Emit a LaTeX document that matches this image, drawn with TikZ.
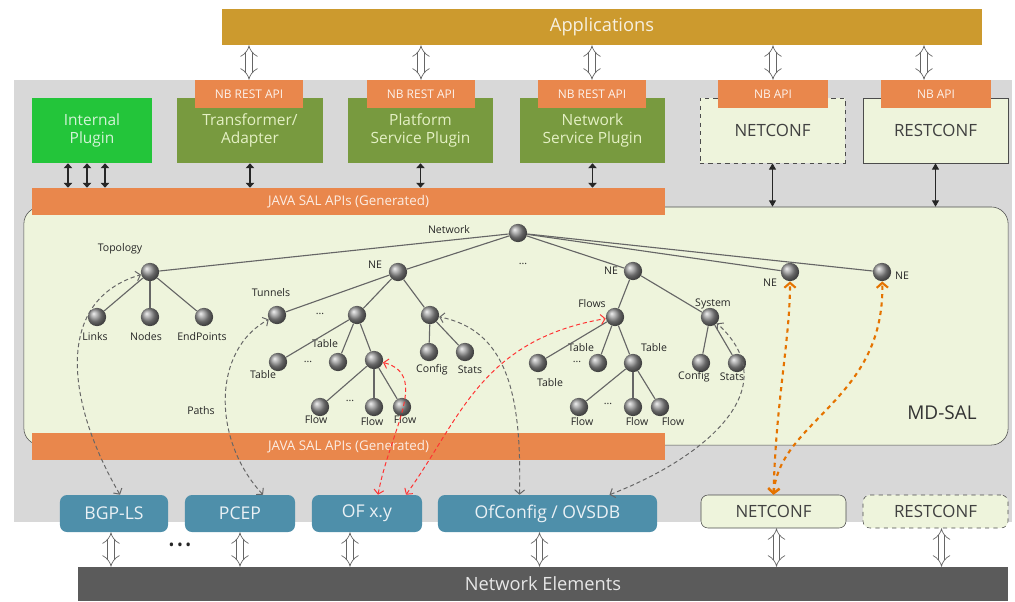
\documentclass[tikz,border=0pt]{standalone}
\usepackage{fontspec}
\setmainfont{Open Sans}
\usepackage{tikz}
\usetikzlibrary{positioning, arrows.meta, calc}

\definecolor{appgold}{HTML}{CC9A2E}
\definecolor{tabor}{HTML}{E9874C}
\definecolor{plugol}{HTML}{789A3F}
\definecolor{plugtxt}{HTML}{E4F0C4}
\definecolor{intgreen}{HTML}{23C53A}
\definecolor{mdfill}{HTML}{EEF4DC}
\definecolor{sbblue}{HTML}{4E8FAA}
\definecolor{nedark}{HTML}{5B5B5B}
\definecolor{greybg}{HTML}{D8D8D8}

\begin{document}
\begin{tikzpicture}[x=0.025cm, y=-0.025cm,
        box/.style={rectangle, inner sep=0pt, align=center},
        plug/.style={box, fill=plugol, text=plugtxt, minimum width=3.625cm, minimum height=1.625cm, font=\fontsize{11}{13}\selectfont},
        tab/.style={box, fill=tabor, text=white!90!tabor, minimum width=2.7cm, minimum height=0.7cm, font=\fontsize{8.5}{10}\selectfont},
        confbox/.style={box, draw=black!70, fill=mdfill, text=black!75, minimum width=3.625cm, font=\fontsize{12}{14}\selectfont},
        sbox/.style={box, rounded corners=5pt, fill=sbblue, text=white!88!sbblue, minimum height=0.925cm, font=\fontsize{12.5}{14}\selectfont},
        salbar/.style={box, fill=tabor, text=white!85!tabor, minimum width=15.825cm, font=\fontsize{9.5}{11}\selectfont},
        ball/.style={circle, ball color=gray!85, minimum size=13pt, inner sep=0pt},
        lbl/.style={font=\fontsize{7.5}{8}\selectfont, text=black!85, inner sep=0pt},
        tree/.style={draw=black!60, line width=0.8pt},
        hollow/.style={draw=black!60, line width=0.5pt, double=white, double distance=4pt, {Implies[scale=1.5]}-{Implies[scale=1.5]}},
        sal/.style={draw=black!85, line width=1.2pt, {Triangle[length=3.5pt,width=6pt]}-{Triangle[length=3.5pt,width=6pt]}},
        mdlink/.style={draw=black!85, line width=0.6pt, {Triangle[length=4.5pt,width=5pt]}-{Triangle[length=4.5pt,width=5pt]}},
        gdash/.style={densely dashed, draw=black!60, line width=0.7pt, {Straight Barb[length=3pt,width=7pt]}-{Straight Barb[length=3pt,width=7pt]}},
        rdash/.style={gdash, draw=red!80},
        odash/.style={dashed, draw=orange!90!black, line width=1.5pt, {Straight Barb[length=3.5pt,width=8pt]}-{Straight Barb[length=3.5pt,width=8pt]}}]

    \useasboundingbox (0,0) rectangle (1015,601);
    \fill[greybg] (14,80) rectangle (1012,522);

    \node[box, fill=appgold, text=white!85!appgold, minimum width=19cm, minimum height=0.9cm, font=\fontsize{13}{15}\selectfont] (apps) at (602,27) {Applications};

    \node[plug, fill=intgreen, text=white!80!intgreen, minimum width=3cm] (intp) at (92,130.5) {Internal\\Plugin};
    \node[plug] (trans) at (250,130.5) {Transformer/\\Adapter};
    \node[plug] (plat) at (420.5,130.5) {Platform\\Service Plugin};
    \node[plug] (nsp) at (592.5,130.5) {Network\\Service Plugin};
    \node[confbox, dashed, minimum height=1.625cm] (nctop) at (772.5,130.5) {NETCONF};
    \node[confbox, minimum height=1.625cm] (rctop) at (935.5,130.5) {RESTCONF};

    \node[tab] (tabtr) at (249,94) {NB REST API};
    \node[tab] (tabpl) at (421,94) {NB REST API};
    \node[tab] (tabns) at (592,94) {NB REST API};
    \node[tab, minimum width=2.75cm] (tabnc) at (773,94) {NB API};
    \node[tab, minimum width=2.75cm] (tabrc) at (936,94) {NB API};

    \node[box, draw=black!70, fill=mdfill, rounded corners=12pt, minimum width=24.6cm, minimum height=5.95cm] (mdsal) at (516,326) {};
    \node[font=\fontsize{13.5}{15}\selectfont, text=black!80] (mdlbl) at (942,413) {MD-SAL};

    \node[salbar, minimum height=0.675cm] (saltop) at (348.5,201.5) {JAVA SAL APIs (Generated)};
    \node[salbar, minimum height=0.675cm] (salbot) at (348.5,446.5) {JAVA SAL APIs (Generated)};

    \node[sbox, minimum width=2.7cm] (bgp) at (114,513.5) {BGP-LS};
    \node[sbox, minimum width=2.75cm] (pcep) at (240,513.5) {PCEP};
    \node[sbox, minimum width=2.75cm] (ofxy) at (367,513.5) {OF x.y};
    \node[sbox, minimum width=5.475cm] (ofc) at (547.5,513.5) {OfConfig / OVSDB};
    \node[confbox, rounded corners=5pt, minimum height=0.825cm] (ncbot) at (773.5,511.5) {NETCONF};
    \node[confbox, rounded corners=5pt, dashed, minimum height=0.825cm] (rcbot) at (935.5,511.5) {RESTCONF};
    \node[text=black!85, font=\fontsize{11}{11}\selectfont] (bdots) at (180,547) {\textbullet\,\textbullet\,\textbullet};

    \node[box, fill=nedark, text=white!85!nedark, minimum width=23.25cm, minimum height=0.85cm, font=\fontsize{13}{15}\selectfont] (nebar) at (543,584) {Network Elements};

    % tree in MD-SAL
    \node[ball] (net)   at (518,233) {};
    \node[ball] (topo)  at (150,272) {};
    \node[ball] (links) at (97,317) {};
    \node[ball] (nodes) at (150,317) {};
    \node[ball] (endp)  at (204,317) {};
    \node[ball] (ne1)   at (398,272) {};
    \node[ball] (tun)   at (277,315) {};
    \node[ball] (nm)    at (357,315) {};
    \node[ball] (nr)    at (430,315) {};
    \node[ball] (t1)    at (278,362) {};
    \node[ball] (t2)    at (338,362) {};
    \node[ball] (ft)    at (374,360) {};
    \node[ball] (f1)    at (320,407) {};
    \node[ball] (f2)    at (374,407) {};
    \node[ball] (f3)    at (402,407) {};
    \node[ball] (cfg1)  at (429,352) {};
    \node[ball] (sts1)  at (465,352) {};
    \node[ball] (ne2)   at (633,271) {};
    \node[ball] (flows) at (615,317) {};
    \node[ball] (t3)    at (538,363) {};
    \node[ball] (t4)    at (598,363) {};
    \node[ball] (ft2)   at (633,363) {};
    \node[ball] (f4)    at (579,407) {};
    \node[ball] (f5)    at (633,407) {};
    \node[ball] (f6)    at (660,407) {};
    \node[ball] (sys)   at (710,317) {};
    \node[ball] (cfg2)  at (701,363) {};
    \node[ball] (sts2)  at (737,363) {};
    \node[ball] (ne3)   at (790,272) {};
    \node[ball] (ne4)   at (882,272) {};

    \node[lbl] (lnet)   at (449,230) {Network};
    \node[lbl] (ltopo)  at (120,249) {Topology};
    \node[lbl] (llinks) at (95,337) {Links};
    \node[lbl] (lnodes) at (146,337) {Nodes};
    \node[lbl] (lendp)  at (202,337) {EndPoints};
    \node[lbl] (lne1)   at (375,265) {NE};
    \node[lbl] (ltun)   at (271,293) {Tunnels};
    \node[lbl] (d1)     at (320,314) {...};
    \node[lbl] (lt2)    at (325,344) {Table};
    \node[lbl] (lt1)    at (263,375) {Table};
    \node[lbl] (d2)     at (308,362) {...};
    \node[lbl] (lcfg1)  at (432,370) {Config};
    \node[lbl] (lsts1)  at (470,370) {Stats};
    \node[lbl] (lpath)  at (201,411) {Paths};
    \node[lbl] (d3)     at (350,401) {...};
    \node[lbl] (lf1)    at (316,420) {Flow};
    \node[lbl] (lf2)    at (372,422) {Flow};
    \node[lbl] (lf3)    at (405,420) {Flow};
    \node[lbl] (d4)     at (523,264) {...};
    \node[lbl] (lne2)   at (611,271) {NE};
    \node[lbl] (lflows) at (592,304) {Flows};
    \node[lbl] (lt3)    at (550,383) {Table};
    \node[lbl] (lt4)    at (581,348) {Table};
    \node[lbl] (d5)     at (577,362) {...};
    \node[lbl] (lft2)   at (654,348) {Table};
    \node[lbl] (d6)     at (608,404) {...};
    \node[lbl] (lf4)    at (582,422) {Flow};
    \node[lbl] (lf5)    at (637,422) {Flow};
    \node[lbl] (lf6)    at (673,422) {Flow};
    \node[lbl] (lsys)   at (713,304) {System};
    \node[lbl] (lcfg2)  at (694,377) {Config};
    \node[lbl] (lsts2)  at (732,377) {Stats};
    \node[lbl] (lne3)   at (770,283) {NE};
    \node[lbl] (lne4)   at (902,276) {NE};

    \path[tree] (net) edge (topo) edge (ne1) edge (ne2) edge (ne3) edge (ne4)
                (topo) edge (links) edge (nodes) edge (endp)
                (ne1) edge (tun) edge (nm) edge (nr)
                (nm) edge (t1) edge (t2) edge (ft)
                (ft) edge (f1) edge (f2) edge (f3)
                (nr) edge (cfg1) edge (sts1)
                (ne2) edge (flows) edge (sys)
                (flows) edge (t3) edge (t4) edge (ft2)
                (ft2) edge (f4) edge (f5) edge (f6)
                (sys) edge (cfg2) edge (sts2);

    \foreach \t in {tabtr, tabpl, tabns, tabnc}
        \draw[hollow] (\t.north |- apps.south) -- (\t.north);
    \draw[hollow] ($(tabrc.north |- apps.south)+(-12,0)$) -- ($(tabrc.north)+(-12,0)$);

    \foreach \dx in {-24,-5,13}
        \draw[sal] ($(intp.south)+(\dx,0)$) -- ($(intp.south |- saltop.north)+(\dx,0)$);
    \foreach \p in {trans, plat, nsp}
        \draw[sal] (\p.south) -- (\p.south |- saltop.north);
    \draw[mdlink] (nctop.south) -- (nctop.south |- mdsal.north);
    \draw[mdlink] (rctop.south) -- (rctop.south |- mdsal.north);

    \draw[hollow] ($(bgp.south)+(-3,0)$) -- ($(bgp.south |- nebar.north)+(-3,0)$);
    \draw[hollow] (pcep.south) -- (pcep.south |- nebar.north);
    \draw[hollow] ($(ofxy.south)+(-17,0)$) -- ($(ofxy.south |- nebar.north)+(-17,0)$);
    \draw[hollow] ($(ofc.south)+(-8,0)$) -- ($(ofc.south |- nebar.north)+(-8,0)$);
    \draw[hollow] ($(ncbot.south)+(3,0)$) -- ($(ncbot.south |- nebar.north)+(3,0)$);
    \draw[hollow] ($(rcbot.south)+(6,0)$) -- ($(rcbot.south |- nebar.north)+(6,0)$);

    \draw[gdash] ($(bgp.north)+(6,0)$) .. controls (65,400) and (55,300) .. (topo);
    \draw[gdash] ($(pcep.north)+(23,0)$) .. controls (212,440) and (212,350) .. (tun);
    \draw[rdash] ($(ofxy.north)+(11,0)$) .. controls (390,430) and (430,375) .. (ft);
    \draw[rdash] ($(ofxy.north)+(39,0)$) .. controls (460,420) and (480,340) .. (flows);
    \draw[gdash] ($(ofc.north)+(-28,0)$) .. controls (522,390) and (505,330) .. (nr);
    \draw[gdash] ($(ofc.north)+(62,0)$) .. controls (700,460) and (790,390) .. (sys);
    \draw[odash] (ncbot.north) .. controls (776,400) and (790,340) .. (ne3);
    \draw[odash] (ncbot.north) .. controls (780,420) and (885,400) .. (ne4);
\end{tikzpicture}
\end{document}
